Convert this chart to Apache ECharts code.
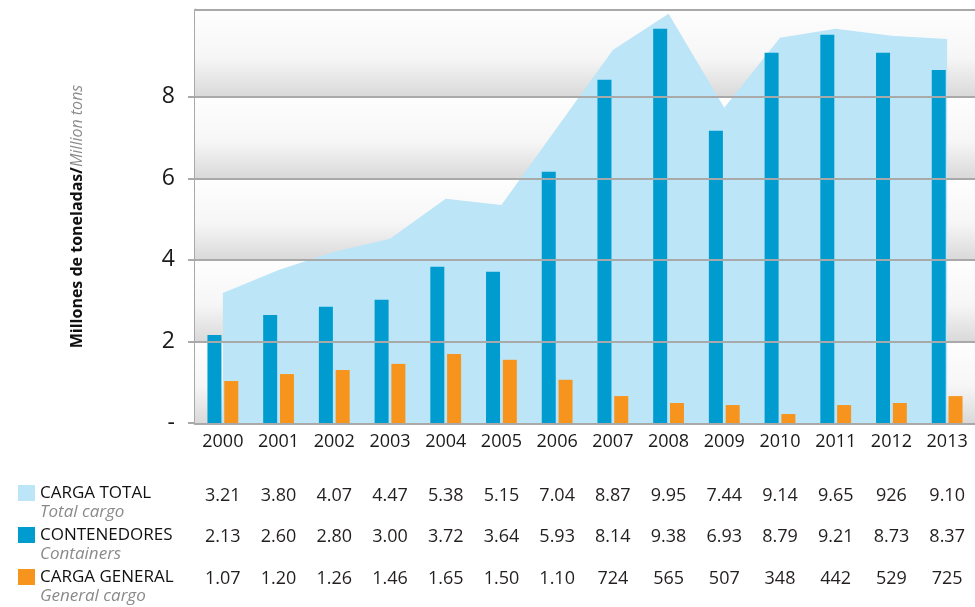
<!DOCTYPE html>
<html>
<head>
<meta charset="utf-8">
<script src="https://cdn.jsdelivr.net/npm/echarts@6/dist/echarts.min.js"></script>
<style>
  html, body { margin: 0; padding: 0; background: #fff; }
  #main { width: 975px; height: 607px; }
</style>
</head>
<body>
<div id="main"></div>
<script>
// Data (heights, table text as printed)
const years = ['2000', '2001', '2002', '2003', '2004', '2005', '2006', '2007', '2008', '2009', '2010', '2011', '2012', '2013'];
const totalCargo = [3.19, 3.75, 4.2, 4.52, 5.5, 5.35, 7.25, 9.15, 10.04, 7.73, 9.45, 9.67, 9.5, 9.42];
const containers = [2.16, 2.65, 2.85, 3.02, 3.83, 3.71, 6.16, 8.42, 9.67, 7.17, 9.08, 9.52, 9.08, 8.66];
const generalCargo = [1.03, 1.20, 1.30, 1.45, 1.69, 1.55, 1.06, 0.66, 0.49, 0.44, 0.22, 0.44, 0.49, 0.66];

const totalLabels = ['3.21', '3.80', '4.07', '4.47', '5.38', '5.15', '7.04', '8.87', '9.95', '7.44', '9.14', '9.65', '926', '9.10'];
const containerLabels = ['2.13', '2.60', '2.80', '3.00', '3.72', '3.64', '5.93', '8.14', '9.38', '6.93', '8.79', '9.21', '8.73', '8.37'];
const generalLabels = ['1.07', '1.20', '1.26', '1.46', '1.65', '1.50', '1.10', '724', '565', '507', '348', '442', '529', '725'];

const yTicks = [0, 2, 4, 6, 8];
const yMax = 10.13;

const FONT = '"Open Sans", sans-serif';
const lightBlue = '#bde5f8';
const blue = '#009ccf';
const orange = '#f7941d';

let myChart = echarts.init(document.getElementById('main'));

// gradient bands behind the plot
let bandFill = {
    type: 'linear', x: 0, y: 0, x2: 0, y2: 1,
    colorStops: [
        { offset: 0, color: '#fefefe' },
        { offset: 0.55, color: '#f6f6f6' },
        { offset: 1, color: '#d9d9d9' }
    ]
};
let bandEdges = yTicks.concat([yMax]);
let bands = [];
for (let i = 0; i < bandEdges.length - 1; i++) {
    bands.push([{ yAxis: bandEdges[i] }, { yAxis: bandEdges[i + 1] }]);
}

// table rows under the axis, one extra x axis per row
function tableAxis(offset, labels) {
    return {
        type: 'category',
        data: years,
        position: 'bottom',
        offset: offset,
        axisLine: { show: false, onZero: false },
        axisTick: { show: false },
        axisLabel: {
            margin: 10,
            fontFamily: FONT,
            fontSize: 18,
            color: '#231f20',
            formatter: function (v, i) { return labels[i]; }
        }
    };
}

let option = {
    animation: false,
    grid: { left: 195, top: 10, width: 787, height: 413 },
    xAxis: [
        {
            type: 'category',
            data: years,
            position: 'bottom',
            axisLine: { onZero: false, lineStyle: { color: '#a9a9a9', width: 3 } },
            axisTick: { show: false },
            axisLabel: { margin: 10, fontFamily: FONT, fontSize: 18, color: '#1a1a1a' }
        },
        tableAxis(54, totalLabels),
        tableAxis(95, containerLabels),
        tableAxis(137, generalLabels)
    ],
    yAxis: {
        type: 'value',
        min: 0,
        max: yMax,
        interval: 2,
        name: '{b|Millones de toneladas/}{i|Million tons}',
        nameLocation: 'middle',
        nameRotate: 90,
        nameGap: 110,
        nameTextStyle: {
            rich: {
                b: { fontFamily: FONT, fontSize: 16, fontWeight: 'bold', color: '#111' },
                i: { fontFamily: FONT, fontSize: 16, fontStyle: 'italic', color: '#8a8a8a' }
            }
        },
        axisLine: { show: true, lineStyle: { color: '#a9a9a9', width: 3 } },
        axisTick: { show: true, length: 7, customValues: yTicks, lineStyle: { color: '#a9a9a9', width: 2 } },
        axisLabel: {
            customValues: yTicks,
            margin: 20,
            fontFamily: FONT,
            fontSize: 23,
            color: '#1a1a1a',
            formatter: function (v) { return v === 0 ? '-' : String(v); }
        },
        splitLine: { show: false }
    },
    graphic: [
        { type: 'rect', left: 18, top: 485, shape: { width: 17, height: 16 }, style: { fill: lightBlue } },
        { type: 'text', left: 40, top: 485, style: { text: 'CARGA TOTAL', font: '17px ' + FONT, fill: '#111' } },
        { type: 'text', left: 40, top: 504, style: { text: 'Total cargo', font: 'italic 17px ' + FONT, fill: '#8a8a8a' } },
        { type: 'rect', left: 18, top: 527, shape: { width: 17, height: 16 }, style: { fill: blue } },
        { type: 'text', left: 40, top: 527, style: { text: 'CONTENEDORES', font: '17px ' + FONT, fill: '#111' } },
        { type: 'text', left: 40, top: 546, style: { text: 'Containers', font: 'italic 17px ' + FONT, fill: '#8a8a8a' } },
        { type: 'rect', left: 18, top: 569, shape: { width: 17, height: 16 }, style: { fill: orange } },
        { type: 'text', left: 40, top: 569, style: { text: 'CARGA GENERAL', font: '17px ' + FONT, fill: '#111' } },
        { type: 'text', left: 40, top: 588, style: { text: 'General cargo', font: 'italic 17px ' + FONT, fill: '#8a8a8a' } }
    ],
    series: [
        {
            // background bands
            type: 'line',
            data: [],
            z: 0,
            silent: true,
            markArea: { silent: true, itemStyle: { color: bandFill }, data: bands }
        },
        {
            // grid lines (kept under the area)
            type: 'line',
            data: [],
            z: 1,
            silent: true,
            markLine: {
                silent: true,
                symbol: 'none',
                label: { show: false },
                lineStyle: { color: '#a9a9a9', width: 2, type: 'solid' },
                data: [{ yAxis: 2 }, { yAxis: 4 }, { yAxis: 6 }, { yAxis: 8 }, { yAxis: yMax }]
            }
        },
        {
            name: 'CARGA TOTAL',
            type: 'line',
            data: totalCargo,
            z: 2,
            symbol: 'none',
            lineStyle: { width: 0 },
            itemStyle: { color: lightBlue },
            areaStyle: { color: lightBlue, opacity: 1 }
        },
        {
            name: 'CONTENEDORES',
            type: 'bar',
            data: containers,
            z: 3,
            barWidth: 14,
            barGap: '20%',
            itemStyle: { color: blue }
        },
        {
            name: 'CARGA GENERAL',
            type: 'bar',
            data: generalCargo,
            z: 3,
            barWidth: 14,
            itemStyle: { color: orange }
        }
    ]
};

myChart.setOption(option);
</script>
</body>
</html>
